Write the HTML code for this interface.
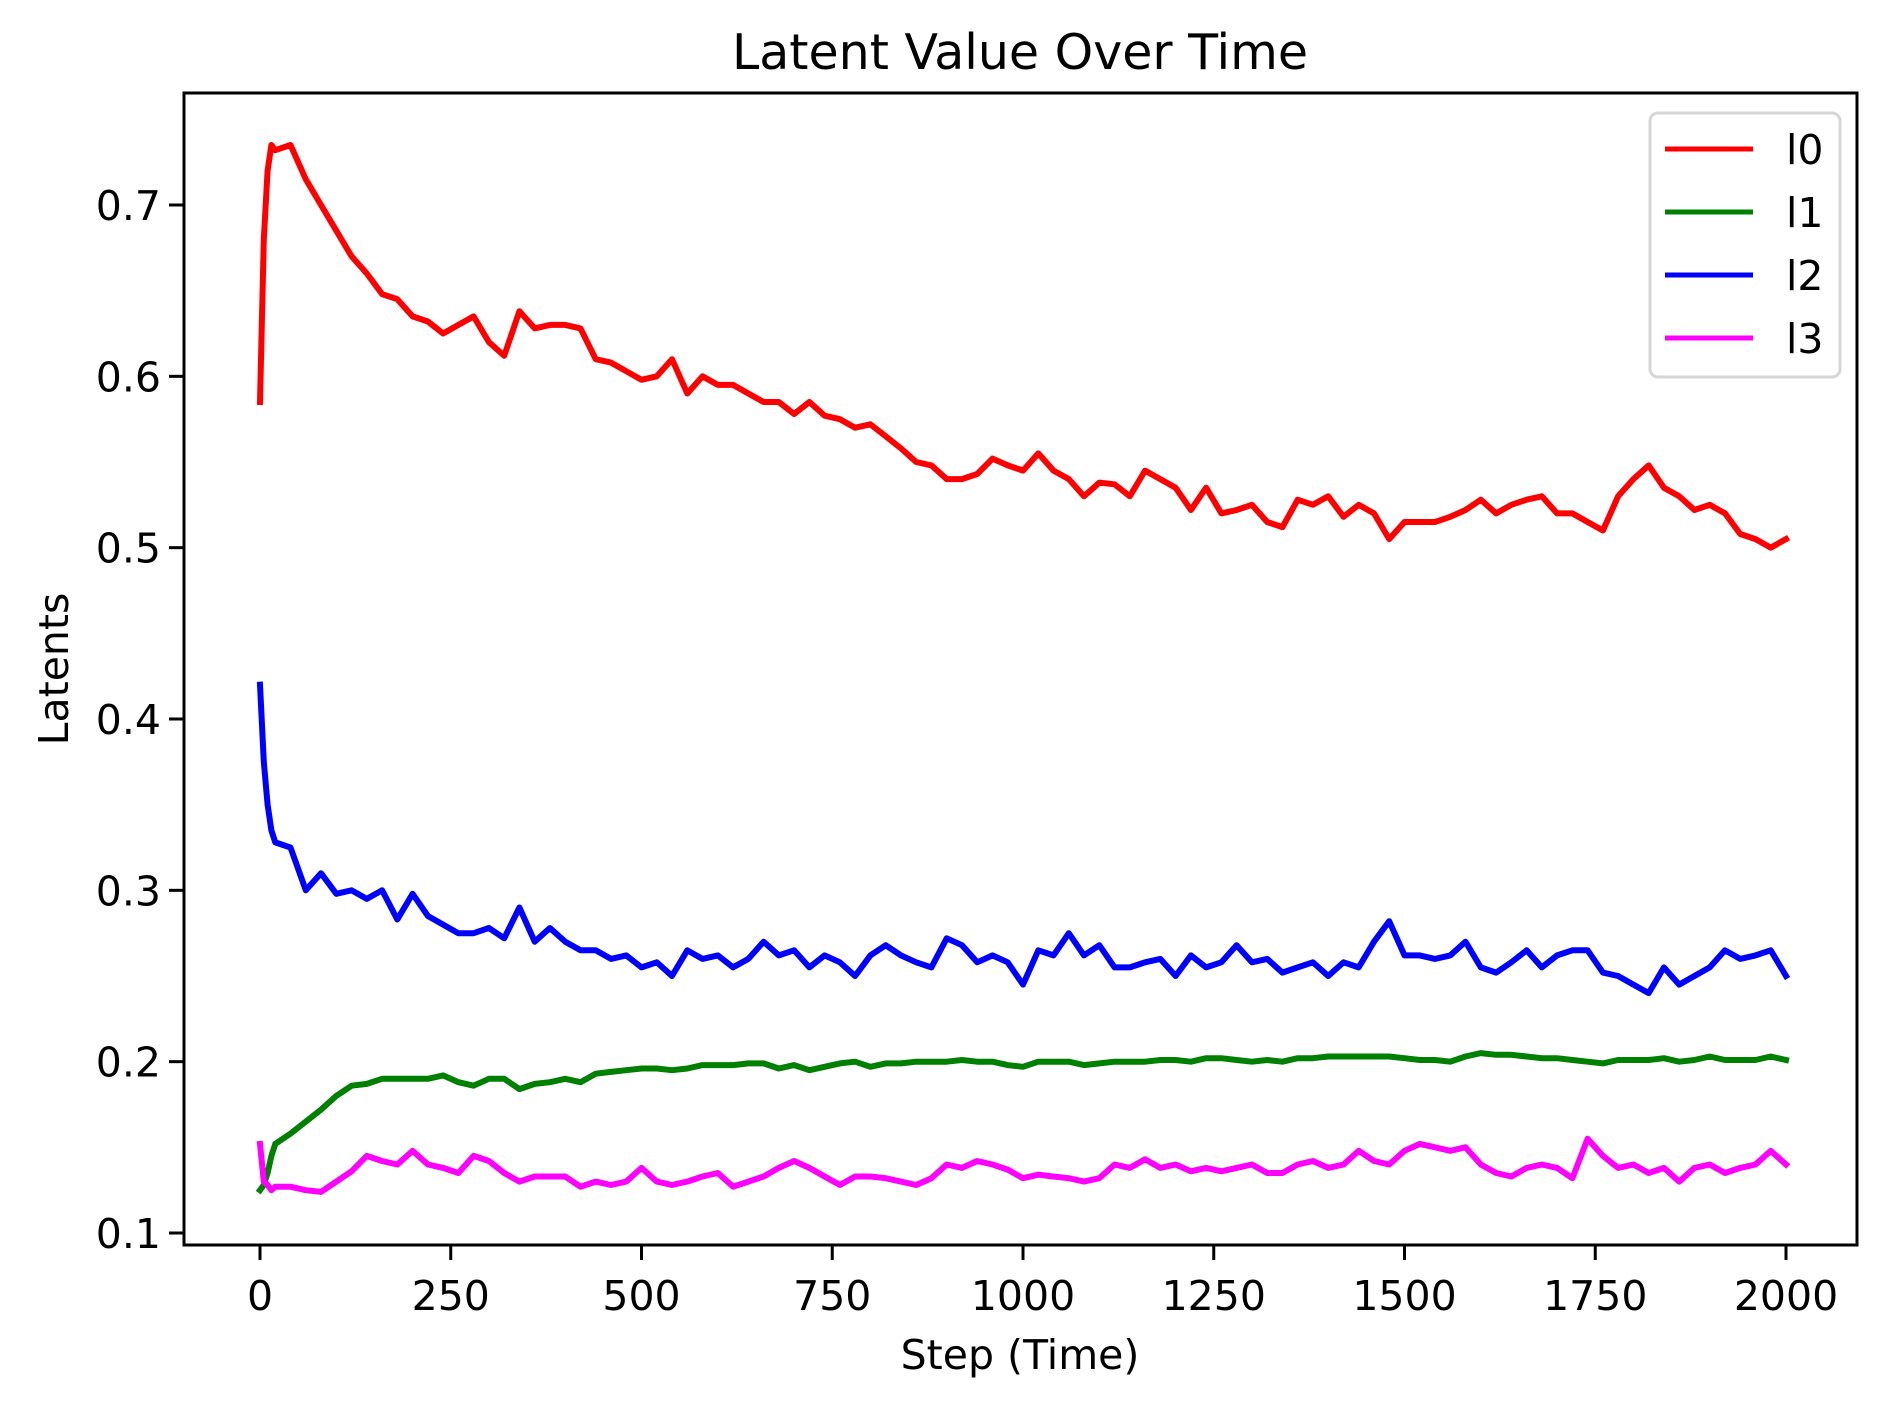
<!DOCTYPE html>
<html><head><meta charset="utf-8"><style>
body{margin:0;background:#fff}
svg{display:block;font-family:"DejaVu Sans","Liberation Sans",sans-serif}
</style></head><body>
<svg id="chart" width="1890" height="1406" viewBox="0 0 1890 1406">
<rect x="0" y="0" width="1890" height="1406" fill="#fff"/>
<text x="1020" y="69" font-size="49" text-anchor="middle">Latent Value Over Time</text>
<g id="plot"></g>
<rect x="184" y="93" width="1673" height="1152" fill="none" stroke="#000" stroke-width="3"/>
<g id="xt"></g><g id="yt"></g>
<text x="1020" y="1369" font-size="41" text-anchor="middle">Step (Time)</text>
<text transform="translate(68,669) rotate(-90)" font-size="41" text-anchor="middle">Latents</text>
<g id="legend">
<rect x="1650" y="113" width="190" height="264" rx="8" fill="#fff" fill-opacity="0.8" stroke="#d6d6d6" stroke-width="3"/>
</g>
</svg>
<script>
const steps=[0,5,10,15,20,40,60,80,100,120,140,160,180,200,220,240,260,280,300,320,340,360,380,400,420,440,460,480,500,520,540,560,580,600,620,640,660,680,700,720,740,760,780,800,820,840,860,880,900,920,940,960,980,1000,1020,1040,1060,1080,1100,1120,1140,1160,1180,1200,1220,1240,1260,1280,1300,1320,1340,1360,1380,1400,1420,1440,1460,1480,1500,1520,1540,1560,1580,1600,1620,1640,1660,1680,1700,1720,1740,1760,1780,1800,1820,1840,1860,1880,1900,1920,1940,1960,1980,2000];
const l0=[0.585,0.68,0.72,0.735,0.732,0.735,0.715,0.70,0.685,0.67,0.66,0.648,0.645,0.635,0.632,0.625,0.63,0.635,0.62,0.612,0.638,0.628,0.63,0.63,0.628,0.61,0.608,0.603,0.598,0.60,0.61,0.59,0.60,0.595,0.595,0.59,0.585,0.585,0.578,0.585,0.577,0.575,0.57,0.572,0.565,0.558,0.55,0.548,0.54,0.54,0.543,0.552,0.548,0.545,0.555,0.545,0.54,0.53,0.538,0.537,0.53,0.545,0.54,0.535,0.522,0.535,0.52,0.522,0.525,0.515,0.512,0.528,0.525,0.53,0.518,0.525,0.52,0.505,0.515,0.515,0.515,0.518,0.522,0.528,0.52,0.525,0.528,0.53,0.52,0.52,0.515,0.51,0.53,0.54,0.548,0.535,0.53,0.522,0.525,0.52,0.508,0.505,0.50,0.505];
const l1=[0.125,0.128,0.135,0.145,0.152,0.158,0.165,0.172,0.18,0.186,0.187,0.19,0.19,0.19,0.19,0.192,0.188,0.186,0.19,0.19,0.184,0.187,0.188,0.19,0.188,0.193,0.194,0.195,0.196,0.196,0.195,0.196,0.198,0.198,0.198,0.199,0.199,0.196,0.198,0.195,0.197,0.199,0.200,0.197,0.199,0.199,0.2,0.2,0.2,0.201,0.2,0.2,0.198,0.197,0.2,0.2,0.2,0.198,0.199,0.2,0.2,0.2,0.201,0.201,0.2,0.202,0.202,0.201,0.2,0.201,0.2,0.202,0.202,0.203,0.203,0.203,0.203,0.203,0.202,0.201,0.201,0.2,0.203,0.205,0.204,0.204,0.203,0.202,0.202,0.201,0.2,0.199,0.201,0.201,0.201,0.202,0.2,0.201,0.203,0.201,0.201,0.201,0.203,0.201];
const l2=[0.42,0.375,0.35,0.335,0.328,0.325,0.3,0.31,0.298,0.3,0.295,0.3,0.283,0.298,0.285,0.28,0.275,0.275,0.278,0.272,0.29,0.27,0.278,0.27,0.265,0.265,0.26,0.262,0.255,0.258,0.25,0.265,0.26,0.262,0.255,0.26,0.27,0.262,0.265,0.255,0.262,0.258,0.25,0.262,0.268,0.262,0.258,0.255,0.272,0.268,0.258,0.262,0.258,0.245,0.265,0.262,0.275,0.262,0.268,0.255,0.255,0.258,0.26,0.25,0.262,0.255,0.258,0.268,0.258,0.26,0.252,0.255,0.258,0.25,0.258,0.255,0.27,0.282,0.262,0.262,0.26,0.262,0.27,0.255,0.252,0.258,0.265,0.255,0.262,0.265,0.265,0.252,0.25,0.245,0.24,0.255,0.245,0.25,0.255,0.265,0.26,0.262,0.265,0.25];
const l3=[0.152,0.13,0.128,0.125,0.127,0.127,0.125,0.124,0.13,0.136,0.145,0.142,0.14,0.148,0.14,0.138,0.135,0.145,0.142,0.135,0.13,0.133,0.133,0.133,0.127,0.13,0.128,0.13,0.138,0.13,0.128,0.13,0.133,0.135,0.127,0.13,0.133,0.138,0.142,0.138,0.133,0.128,0.133,0.133,0.132,0.13,0.128,0.132,0.14,0.138,0.142,0.14,0.137,0.132,0.134,0.133,0.132,0.13,0.132,0.14,0.138,0.143,0.138,0.14,0.136,0.138,0.136,0.138,0.14,0.135,0.135,0.14,0.142,0.138,0.14,0.148,0.142,0.14,0.148,0.152,0.15,0.148,0.15,0.14,0.135,0.133,0.138,0.14,0.138,0.132,0.155,0.145,0.138,0.14,0.135,0.138,0.13,0.138,0.14,0.135,0.138,0.14,0.148,0.14];
const seriesNames=["l0","l1","l2","l3"];
const seriesColors=["#ff0000","#008000","#0000ff","#ff00ff"];
const xTicks=[0,250,500,750,1000,1250,1500,1750,2000];
const yTicks=[0.1,0.2,0.3,0.4,0.5,0.6,0.7];
const yTickLabels=["0.1","0.2","0.3","0.4","0.5","0.6","0.7"];

const NS="http://www.w3.org/2000/svg";
function X(v){return 260+(v/2000)*1526;}
function Y(v){return 1233-(v-0.1)/0.6*1028;}
function mk(tag,attrs,parent){const e=document.createElementNS(NS,tag);for(const k in attrs)e.setAttribute(k,attrs[k]);parent.appendChild(e);return e;}
const plot=document.getElementById('plot');
[l0,l1,l2,l3].forEach((vals,i)=>{
  const d=vals.map((v,j)=>(j?'L':'M')+X(steps[j]).toFixed(1)+' '+Y(v).toFixed(1)).join(' ');
  const p=mk('path',{d:d,fill:'none',stroke:seriesColors[i],'stroke-width':6,'stroke-linejoin':'round','stroke-linecap':'square'},plot);
  
  
});
const xt=document.getElementById('xt');
xTicks.forEach(t=>{
  const l=mk('line',{x1:X(t),x2:X(t),y1:1245,y2:1260,stroke:'#000','stroke-width':3},xt);
  
  
  const tx=mk('text',{x:X(t),y:1310,'font-size':41,'text-anchor':'middle'},xt);
  tx.textContent=String(t);
  
  
});
const yt=document.getElementById('yt');
yTicks.forEach((t,i)=>{
  const l=mk('line',{x1:169,x2:184,y1:Y(t),y2:Y(t),stroke:'#000','stroke-width':3},yt);
  
  
  const tx=mk('text',{x:161,y:Y(t)+15,'font-size':41,'text-anchor':'end'},yt);
  tx.textContent=yTickLabels[i];
  
  
});
const lg=document.getElementById('legend');
seriesNames.forEach((n,i)=>{
  const y=149+i*63;
  const l=mk('line',{x1:1665,x2:1753,y1:y,y2:y,stroke:seriesColors[i],'stroke-width':5},lg);
  
  
  const tx=mk('text',{x:1786,y:y+15,'font-size':41},lg);
  tx.textContent=n;
  
  
});
</script>
</body></html>
